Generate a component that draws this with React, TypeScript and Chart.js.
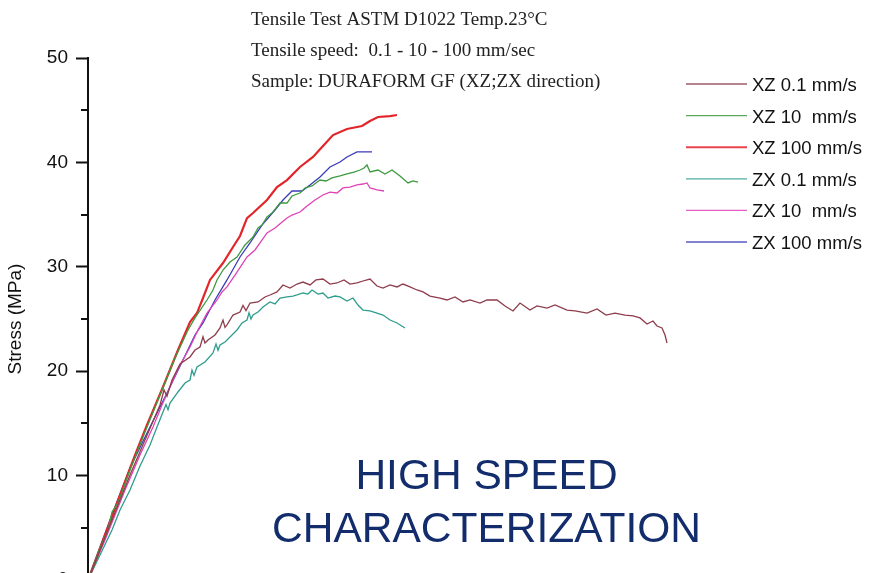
import { useEffect, useRef } from 'react';
import { Chart, registerables } from 'chart.js';

Chart.register(...registerables);

type Pt = [number, number];

// x: relative elongation (arbitrary units, axis not visible), y: stress (MPa)
const XZ_01: Pt[] = [
  [0, 0], [0.24, 2.87], [0.44, 5.27], [0.6, 7.18], [0.84, 10.06], [1.14, 13.41], [1.44, 16.76],
  [1.52, 18.2], [1.58, 17.6], [1.68, 19.16], [1.84, 20.69], [2.04, 21.36], [2.14, 22.03], [2.24, 22.32],
  [2.3, 23.3], [2.34, 22.7], [2.4, 22.99], [2.54, 23.47], [2.64, 24.14], [2.7, 24.9], [2.74, 24.2],
  [2.78, 24.43], [2.9, 25.38], [3.04, 25.67], [3.1, 26.3], [3.16, 25.8], [3.24, 26.53],
  [3.4, 26.63], [3.54, 27.11], [3.64, 27.3], [3.78, 27.59], [3.9, 28.26], [4.04, 27.97],
  [4.18, 28.35], [4.3, 28.54], [4.44, 28.26], [4.56, 28.74], [4.7, 28.83], [4.84, 28.35],
  [4.98, 28.45], [5.12, 28.74], [5.24, 28.35], [5.38, 28.45], [5.5, 28.64], [5.64, 28.83],
  [5.78, 28.16], [5.9, 27.97], [6.04, 28.26], [6.18, 28.07], [6.3, 28.35], [6.44, 28.07],
  [6.58, 27.78], [6.7, 27.59], [6.84, 27.2], [7.04, 27.01], [7.18, 26.82], [7.34, 27.11],
  [7.5, 26.63], [7.64, 26.82], [7.84, 26.53], [7.98, 26.82], [8.18, 26.82], [8.34, 26.25],
  [8.5, 25.77], [8.64, 26.53], [8.84, 25.86], [8.98, 26.25], [9.18, 26.05], [9.34, 26.34],
  [9.58, 25.86], [9.74, 25.77], [9.98, 25.57], [10.18, 25.96], [10.36, 25.38], [10.54, 25.57],
  [10.74, 25.38], [10.9, 25.29], [11.04, 25.1], [11.18, 24.52], [11.3, 24.81], [11.38, 24.33],
  [11.48, 24.14], [11.54, 23.47], [11.58, 22.7],
];

const XZ_10: Pt[] = [
  [0, 0], [0.24, 3.07], [0.4, 4.79], [0.48, 6.51], [0.6, 7.38], [0.84, 10.54], [1.14, 14.18],
  [1.44, 17.72], [1.74, 21.26], [2.0, 23.95], [2.14, 25.1], [2.38, 26.82], [2.5, 27.78],
  [2.58, 28.74], [2.7, 29.69], [2.84, 30.46], [2.98, 30.94], [3.14, 32.09], [3.3, 32.85],
  [3.4, 33.72], [3.48, 34.0], [3.58, 34.77], [3.68, 35.15], [3.84, 36.11], [3.98, 36.11],
  [4.08, 36.78], [4.24, 37.07], [4.34, 37.55], [4.48, 37.74], [4.64, 38.31], [4.76, 38.22],
  [4.88, 38.51], [5.04, 38.7], [5.18, 38.89], [5.32, 39.08], [5.44, 39.27], [5.52, 39.46],
  [5.58, 39.75], [5.64, 39.08], [5.8, 39.27], [5.94, 38.89], [6.08, 39.27], [6.24, 38.7],
  [6.4, 38.03], [6.5, 38.22], [6.6, 38.12],
];

const XZ_100: Pt[] = [
  [0, 0], [0.34, 4.31], [0.64, 8.14], [0.94, 11.97], [1.18, 14.85], [1.5, 18.49], [1.8, 22.03],
  [2.04, 24.71], [2.18, 25.57], [2.3, 27.01], [2.44, 28.74], [2.7, 30.36], [2.9, 31.9],
  [3.04, 32.95], [3.18, 34.67], [3.3, 35.15], [3.58, 36.4], [3.78, 37.64], [3.98, 38.31],
  [4.24, 39.56], [4.5, 40.52], [4.7, 41.57], [4.9, 42.62], [5.18, 43.2], [5.48, 43.49],
  [5.64, 43.97], [5.8, 44.35], [6.04, 44.44], [6.18, 44.54],
];

const ZX_01: Pt[] = [
  [0, 0], [0.24, 2.39], [0.48, 4.79], [0.64, 6.7], [0.84, 8.62], [1.04, 10.92], [1.24, 12.93],
  [1.38, 14.66], [1.5, 16.09], [1.56, 16.8], [1.6, 16.3], [1.64, 16.95], [1.8, 18.01], [1.94, 18.87],
  [2.04, 19.16], [2.08, 20.1], [2.12, 19.6], [2.18, 20.4], [2.34, 20.88], [2.5, 21.74],
  [2.56, 22.6], [2.6, 22.0], [2.64, 22.51], [2.74, 22.8], [2.84, 23.28],
  [2.98, 23.95], [3.08, 24.62], [3.18, 24.9], [3.22, 25.6], [3.26, 25.0], [3.3, 25.38], [3.4, 25.67], [3.5, 26.15],
  [3.64, 26.63], [3.74, 26.44], [3.84, 27.01], [3.98, 27.11], [4.1, 27.2], [4.18, 27.3],
  [4.3, 27.49], [4.4, 27.39], [4.48, 27.78], [4.6, 27.39], [4.7, 27.49], [4.8, 27.01],
  [4.94, 27.2], [5.04, 27.11], [5.18, 26.72], [5.3, 27.01], [5.4, 26.34], [5.5, 25.86],
  [5.64, 25.77], [5.78, 25.57], [5.9, 25.38], [6.04, 24.9], [6.18, 24.62], [6.34, 24.14],
];

const ZX_10: Pt[] = [
  [0, 0], [0.34, 3.83], [0.74, 8.62], [1.04, 11.97], [1.3, 14.66], [1.48, 16.76], [1.64, 18.49],
  [1.84, 20.59], [2.04, 22.32], [2.2, 23.95], [2.38, 25.57], [2.58, 26.82], [2.68, 27.59],
  [2.78, 28.07], [2.94, 29.21], [3.18, 30.94], [3.34, 31.61], [3.58, 33.24], [3.74, 33.72],
  [3.98, 34.67], [4.08, 34.96], [4.24, 35.25], [4.38, 35.82], [4.54, 36.4], [4.7, 36.88],
  [4.84, 37.16], [4.98, 37.07], [5.1, 37.55], [5.24, 37.64], [5.38, 37.84], [5.5, 37.93],
  [5.58, 38.03], [5.64, 37.55], [5.78, 37.36], [5.92, 37.26],
];

const ZX_100: Pt[] = [
  [0, 0], [0.44, 5.75], [0.84, 10.73], [1.24, 14.66], [1.58, 17.91], [1.9, 21.07], [2.14, 23.47],
  [2.3, 24.62], [2.54, 26.82], [2.78, 28.74], [3.04, 30.94], [3.24, 32.28], [3.48, 34.0],
  [3.74, 35.44], [3.9, 36.4], [4.08, 37.26], [4.28, 37.26], [4.44, 37.84], [4.64, 38.6],
  [4.84, 39.56], [5.04, 40.04], [5.18, 40.52], [5.38, 41.0], [5.52, 41.0], [5.68, 41.0],
];

const SERIES_LABELS = ['XZ 0.1 mm/s', 'XZ 10  mm/s', 'XZ 100 mm/s', 'ZX 0.1 mm/s', 'ZX 10  mm/s', 'ZX 100 mm/s'];
const SERIES_DATA = [XZ_01, XZ_10, XZ_100, ZX_01, ZX_10, ZX_100];
const SERIES_COLORS = ['#8e3d4c', '#3e9a40', '#e2252b', '#2f9d8d', '#e043b6', '#3b3bb8'];
const SERIES_WIDTHS = [1.3, 1.3, 2.2, 1.3, 1.3, 1.3];

const Y_MIN = 0;
const Y_MAX = 50;
const Y_STEP = 10;
const Y_MINOR_TICKS = [5, 15, 25, 35, 45];
const Y_TITLE = 'Stress (MPa)';

const HEADER_LINES = [
  'Tensile Test ASTM D1022 Temp.23°C',
  'Tensile speed:  0.1 - 10 - 100 mm/sec',
  'Sample: DURAFORM GF (XZ;ZX direction)',
];
const BANNER_LINES = ['HIGH SPEED', 'CHARACTERIZATION'];

const SANS = '"Liberation Sans", Arial, sans-serif';
const SERIF = '"Liberation Serif", "Times New Roman", serif';

const overlayPlugin = {
  id: 'overlay',
  afterDraw(chart: any) {
    const ctx: CanvasRenderingContext2D = chart.ctx;
    const yScale = chart.scales.y;
    ctx.save();

    // minor ticks on y axis
    ctx.strokeStyle = '#111';
    ctx.lineWidth = 2;
    const axisX = yScale.right;
    Y_MINOR_TICKS.forEach((v) => {
      const py = Math.round(yScale.getPixelForValue(v));
      ctx.beginPath();
      ctx.moveTo(axisX - 7, py);
      ctx.lineTo(axisX, py);
      ctx.stroke();
    });

    // header text
    ctx.fillStyle = '#222';
    ctx.font = `19px ${SERIF}`;
    ctx.textAlign = 'left';
    ctx.textBaseline = 'alphabetic';
    HEADER_LINES.forEach((t, i) => {
      ctx.fillText(t, 251, 25 + i * 31);
    });

    // legend
    ctx.font = `18.5px ${SANS}`;
    ctx.textBaseline = 'middle';
    SERIES_LABELS.forEach((label, i) => {
      const y = 84 + i * 31.6;
      ctx.strokeStyle = SERIES_COLORS[i];
      ctx.globalAlpha = 0.85;
      ctx.lineWidth = i === 2 ? 2 : 1.3;
      ctx.beginPath();
      ctx.moveTo(686, y);
      ctx.lineTo(747, y);
      ctx.stroke();
      ctx.globalAlpha = 1;
      ctx.fillStyle = '#111';
      ctx.fillText(label, 752, y + 2);
    });

    // banner
    ctx.fillStyle = '#122c6c';
    ctx.font = `42.5px ${SANS}`;
    ctx.textAlign = 'center';
    ctx.textBaseline = 'alphabetic';
    ctx.fillText(BANNER_LINES[0], 486.5, 489);
    ctx.fillText(BANNER_LINES[1], 486.5, 542);

    ctx.restore();
  },
};

export default function App() {
  const ref = useRef<HTMLCanvasElement | null>(null);

  useEffect(() => {
    if (!ref.current) return;
    const chart = new Chart(ref.current, {
      type: 'scatter',
      data: {
        datasets: SERIES_DATA.map((d, i) => ({
          label: SERIES_LABELS[i],
          data: d.map(([x, y]) => ({ x, y })),
          showLine: true,
          borderColor: SERIES_COLORS[i],
          backgroundColor: SERIES_COLORS[i],
          borderWidth: SERIES_WIDTHS[i],
          pointRadius: 0,
          tension: 0,
        })),
      },
      options: {
        responsive: false,
        animation: false,
        devicePixelRatio: 1,
        layout: { padding: { top: 58, right: 12, bottom: 20, left: 0 } },
        plugins: {
          legend: { display: false },
          tooltip: { enabled: false },
        },
        scales: {
          x: {
            type: 'linear',
            display: false,
            min: 0,
            max: 15.5,
          },
          y: {
            type: 'linear',
            position: 'left',
            min: Y_MIN,
            max: Y_MAX,
            afterFit: (scale: any) => {
              scale.width = 88;
            },
            ticks: {
              stepSize: Y_STEP,
              color: '#111',
              padding: 8,
              font: { family: SANS, size: 19 },
            },
            grid: {
              drawOnChartArea: false,
              tickLength: 12,
              tickColor: '#111',
              tickWidth: 2,
            },
            border: { color: '#111', width: 2 },
            title: {
              display: true,
              text: Y_TITLE,
              color: '#111',
              font: { family: SANS, size: 19 },
              padding: 4,
            },
          },
        },
      },
      plugins: [overlayPlugin],
    });
    return () => chart.destroy();
  }, []);

  return (
    <div style={{ position: 'fixed', left: 0, top: 0, width: 875, height: 573, overflow: 'hidden', background: '#fff' }}>
      <canvas ref={ref} width={875} height={600} style={{ display: 'block' }} />
    </div>
  );
}
